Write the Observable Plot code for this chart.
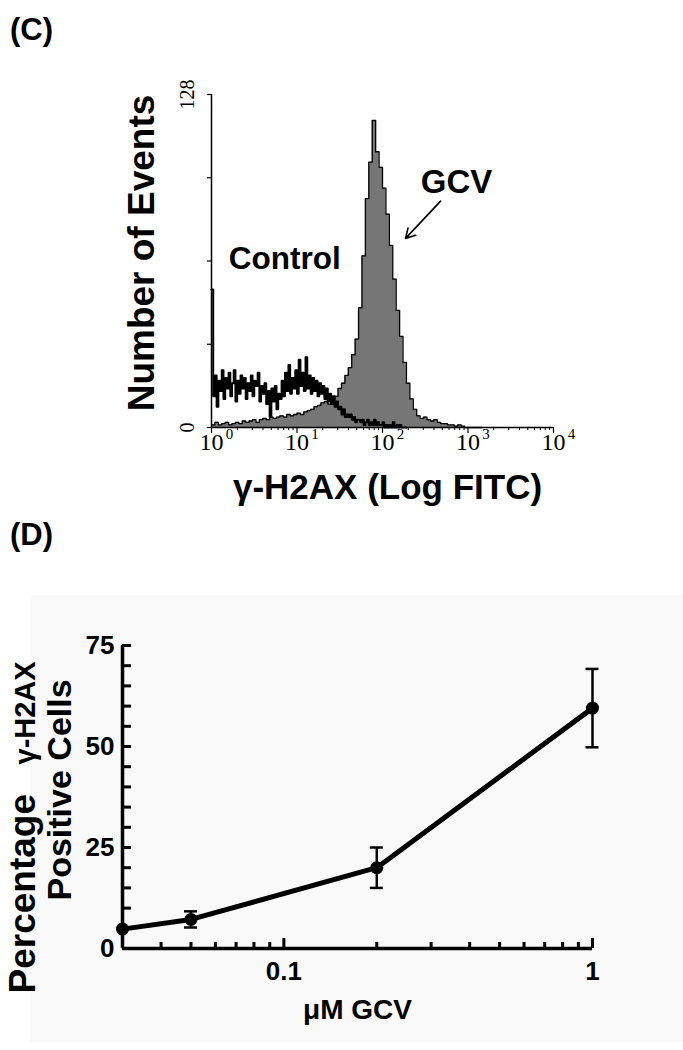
<!DOCTYPE html>
<html><head><meta charset="utf-8">
<script src="https://cdn.jsdelivr.net/npm/d3@7"></script>
<script src="https://cdn.jsdelivr.net/npm/@observablehq/plot@0.6"></script>
<style>
body{margin:0;background:#fff;}
#page{position:relative;width:683px;height:1050px;overflow:hidden;background:#fff;font-family:"Liberation Sans",Arial,sans-serif;}
.plabel{position:absolute;left:10px;font-weight:bold;font-size:31px;line-height:34px;}
#bgD{position:absolute;left:30px;top:595px;width:653px;height:447px;background:#f9f9f9;}
#c{position:absolute;left:0;top:0;}
#d{position:absolute;left:0;top:560px;}
</style></head>
<body>
<div id="page">
  <div class="plabel" style="top:13px">(C)</div>
  <div class="plabel" style="top:518px">(D)</div>
  <div id="bgD"></div>
  <div id="c"></div>
  <div id="d"></div>
</div>
<script>
// ---------- Panel C data (flow cytometry histograms, channels start at 10^0) ----------
const gcvBinsPerDecade = 25;
const gcvCounts = [
  1,2,1,1.5,2,1,1.5,2,1.5,2.5,
  2,2.5,3,2,3,3.5,3,4,3.5,4,
  4.5,4,5,4.5,5,5.5,5,6,6.5,7,
  8,8.5,9.5,10,9,10,12,15,17,20,
  23,28,34,46,66,88,102,118,106,100,
  92,82,70,57,45,35,25,17,11,7,
  4.5,3.5,4,3,2.5,3,2,1.5,1.5,1,
  1,0.5,1,0.5,0,0,0,0,0,0
];
const controlBinsPerDecade = 50;
const controlCounts = [
  53,12,20,8,18,14,22,11,19,15,
  21,12,17,22,10,18,13,20,15,19,
  11,17,14,20,12,18,16,21,10,16,
  13,17,9,14,4,15,10,16,7,13,
  11,18,12,21,14,24,13,19,15,22,
  13,26,16,21,14,27,15,20,13,19,
  14,18,12,17,13,16,11,15,10,13,
  9,12,8,10,7,8,5,7,4,5,
  4,5,3,4,2,3,3,2,3,1,
  2,3,1,2,1,3,1,2,1,1,
  2,0,1,0,1,0,2,0,1,0,
  1,0,0,0,0
];
const fitcTicks = [1, 10, 100, 1000, 10000];
const fitcTickBase = ["10", "10", "10", "10", "10"];
const fitcTickExponents = ["0", "1", "2", "3", "4"];
const eventTicks = [0, 32, 64, 96, 128];
const eventTickLabels = [0, 128];
const seriesLabels = [{text: "Control", x: 7.2, y: 61}];
const gcvLabels = [{text: "GCV", x: 736, y: 90}];
const gcvArrow = [{x1: 478, y1: 87, x2: 186, y2: 72.7}];

// ---------- Panel D data ----------
const doses = [0.03, 0.05, 0.2, 1];
const percentPositive = [4.8, 7.2, 20, 59.5];
const percentError = [0, 2, 5, 9.7];
const pctTicks = [0, 25, 50, 75];
const pctMinorTicks = [0,5,10,15,20,25,30,35,40,45,50,55,60,65,70,75];
const doseTickLabels = [0.1, 1];
const doseMinorTicks = [0.04,0.05,0.06,0.07,0.08,0.09,0.2,0.3,0.4,0.5,0.6,0.7,0.8,0.9];

const SANS = "Liberation Sans, Arial, sans-serif";
const SERIF = "Liberation Serif, Times New Roman, serif";

// ----- Panel C -----
const gcv = gcvCounts.map((c, i) => ({fitc: 10 ** (i / gcvBinsPerDecade), count: c}));
const ctrl = controlCounts.map((c, i) => ({fitc: 10 ** (i / controlBinsPerDecade), count: c}));
const fitcMinor = [];
for (let k = 0; k < 4; k++) for (let m = 2; m <= 9; m++) fitcMinor.push(m * 10 ** k);

const chartC = Plot.plot({
  width: 683, height: 520,
  marginTop: 94, marginBottom: 93, marginLeft: 211, marginRight: 130,
  style: {background: "transparent", overflow: "visible", fontFamily: SANS},
  x: {type: "log", domain: [1, 10000]},
  y: {domain: [0, 128]},
  marks: [
    Plot.areaY(gcv, {x: "fitc", y: "count", curve: "step-after", fill: "#767676"}),
    Plot.lineY(gcv, {x: "fitc", y: "count", curve: "step-after", stroke: "#000", strokeWidth: 1.3}),
    Plot.lineY(ctrl, {x: "fitc", y: "count", curve: "step-after", stroke: "#000", strokeWidth: 2}),
    Plot.ruleY([0], {stroke: "#000", strokeWidth: 1.5}),
    Plot.ruleX([1], {stroke: "#000", strokeWidth: 1.5}),
    Plot.axisY({ticks: eventTicks, tickSize: 4, tickFormat: () => "", label: null, strokeWidth: 1.2}),
    Plot.axisX({ticks: fitcTicks, tickSize: 6, tickFormat: () => "", label: null, strokeWidth: 1.2}),
    Plot.axisX({ticks: fitcMinor, tickSize: 3, tickFormat: () => "", label: null, strokeWidth: 1}),
    Plot.text(eventTickLabels, {y: d => d, text: d => String(d), frameAnchor: "left", rotate: -90, dx: -24,
      textAnchor: "middle", lineAnchor: "middle", fontFamily: SERIF, fontSize: 20}),
    Plot.text(fitcTicks, {x: d => d, text: (d, i) => fitcTickBase[i], frameAnchor: "bottom", dy: 15,
      textAnchor: "middle", lineAnchor: "middle", fontFamily: SERIF, fontSize: 24}),
    Plot.text(fitcTicks, {x: d => d, text: (d, i) => fitcTickExponents[i], frameAnchor: "bottom", dx: 18, dy: 7,
      textAnchor: "middle", lineAnchor: "middle", fontFamily: SERIF, fontSize: 15}),
    Plot.text(["Number of Events"], {text: d => d, frameAnchor: "left", rotate: -90, dx: -58, dy: -8,
      textAnchor: "middle", lineAnchor: "bottom", fontSize: 37, fontWeight: "bold"}),
    Plot.text(["γ-H2AX (Log FITC)"], {text: d => d, frameAnchor: "bottom", dx: 5, dy: 71,
      textAnchor: "middle", lineAnchor: "bottom", fontSize: 35, fontWeight: "bold"}),
    Plot.text(seriesLabels, {x: "x", y: "y", text: "text", textAnchor: "middle", lineAnchor: "bottom",
      fontSize: 31.5, fontWeight: "bold"}),
    Plot.text(gcvLabels, {x: "x", y: "y", text: "text", textAnchor: "middle", lineAnchor: "bottom",
      fontSize: 33, fontWeight: "bold"}),
    Plot.arrow(gcvArrow, {x1: "x1", y1: "y1", x2: "x2", y2: "y2", stroke: "#000", strokeWidth: 1.6, headLength: 10})
  ]
});
document.getElementById("c").appendChild(chartC);

// ----- Panel D -----
const pts = doses.map((d, i) => ({dose: d, pct: percentPositive[i], err: percentError[i]}));
const errPts = pts.filter(d => d.err > 0);
const dW = 683, dML = 122, dMR = 91;
const xDomD = [0.03, 1];
const pxPerDecade = (dW - dML - dMR) / Math.log10(xDomD[1] / xDomD[0]);
const capFactor = 10 ** (6.5 / pxPerDecade);

const chartD = Plot.plot({
  width: dW, height: 490,
  marginTop: 85, marginBottom: 102, marginLeft: dML, marginRight: dMR,
  style: {background: "transparent", overflow: "visible", fontFamily: SANS},
  x: {type: "log", domain: xDomD},
  y: {domain: [0, 75]},
  marks: [
    Plot.axisY({ticks: pctMinorTicks, tickSize: 9, dx: 9, tickFormat: () => "", label: null, strokeWidth: 3}),
    Plot.axisX({ticks: doseMinorTicks, tickSize: 6, dy: -6, tickFormat: () => "", label: null, strokeWidth: 3}),
    Plot.axisX({ticks: doseTickLabels, tickSize: 10, dy: -10, tickFormat: () => "", label: null, strokeWidth: 3}),
    Plot.ruleY([0], {stroke: "#000", strokeWidth: 3.5}),
    Plot.ruleX([0.03], {stroke: "#000", strokeWidth: 3.5}),
    Plot.line(pts, {x: "dose", y: "pct", stroke: "#000", strokeWidth: 5, strokeLinejoin: "round"}),
    Plot.ruleX(errPts, {x: "dose", y1: d => d.pct - d.err, y2: d => d.pct + d.err, stroke: "#000", strokeWidth: 2.5}),
    Plot.ruleY(errPts, {y: d => d.pct + d.err, x1: d => d.dose / capFactor, x2: d => d.dose * capFactor, stroke: "#000", strokeWidth: 2.5}),
    Plot.ruleY(errPts, {y: d => d.pct - d.err, x1: d => d.dose / capFactor, x2: d => d.dose * capFactor, stroke: "#000", strokeWidth: 2.5}),
    Plot.dot(pts, {x: "dose", y: "pct", r: 6.5, fill: "#000"}),
    Plot.text(pctTicks, {y: d => d, text: d => String(d), frameAnchor: "left", dx: -8,
      textAnchor: "end", lineAnchor: "middle", fontSize: 26, fontWeight: "bold"}),
    Plot.text(doseTickLabels, {x: d => d, text: d => String(d), frameAnchor: "bottom", dy: 23,
      textAnchor: "middle", lineAnchor: "middle", fontSize: 26, fontWeight: "bold"}),
    Plot.text(["μM GCV"], {text: d => d, frameAnchor: "bottom", dy: 62,
      textAnchor: "middle", lineAnchor: "middle", fontSize: 28, fontWeight: "bold"}),
    Plot.text(["Percentage"], {text: d => d, frameAnchor: "bottom-left", rotate: -90, dx: -88, dy: 45,
      textAnchor: "start", lineAnchor: "bottom", fontSize: 37, fontWeight: "bold"}),
    Plot.text(["γ-H2AX"], {text: d => d, frameAnchor: "bottom-left", rotate: -90, dx: -88, dy: -184,
      textAnchor: "start", lineAnchor: "bottom", fontSize: 29, fontWeight: "bold"}),
    Plot.text(["Positive Cells"], {text: d => d, frameAnchor: "bottom-left", rotate: -90, dx: -52, dy: -48,
      textAnchor: "start", lineAnchor: "bottom", fontSize: 34, fontWeight: "bold"})
  ]
});
document.getElementById("d").appendChild(chartD);
</script>
</body></html>
